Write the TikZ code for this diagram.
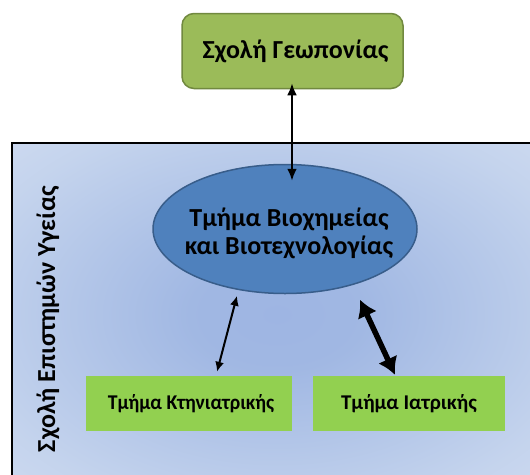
\documentclass[tikz,border=0pt]{standalone}
\usepackage{fontspec}
\setmainfont{Carlito}
\usetikzlibrary{arrows.meta,shapes.geometric}
\definecolor{olivefill}{HTML}{9BBB59}
\definecolor{olivedraw}{HTML}{71893F}
\definecolor{limefill}{HTML}{92D050}
\definecolor{bluefill}{HTML}{4F81BD}
\definecolor{bluedraw}{HTML}{385D8A}
\pgfdeclareradialshading{healthbg}{\pgfpoint{0bp}{0bp}}{%
  rgb(0bp)=(0.62,0.71,0.89);
  rgb(8bp)=(0.63,0.72,0.89);
  rgb(30bp)=(0.77,0.83,0.93);
  rgb(50bp)=(0.87,0.90,0.96)}
\tikzset{
  schoolbox/.style={draw=olivedraw, line width=1.5pt, fill=olivefill, rounded corners=12pt,
    minimum width=221pt, minimum height=75pt, inner sep=0pt, font=\bfseries\fontsize{26}{30}\selectfont},
  deptbox/.style={fill=limefill, minimum height=55pt, inner sep=0pt, font=\bfseries\fontsize{21}{24}\selectfont},
  bioell/.style={ellipse, draw=bluedraw, line width=1.5pt, fill=bluefill, minimum width=264pt, minimum height=129pt,
    inner sep=0pt},
  biolabel/.style={inner sep=0pt, text=black, align=center, font=\bfseries\fontsize{26}{28}\selectfont},
  thinarr/.style={line width=2pt, {Latex[length=10pt,width=9pt]}-{Latex[length=10pt,width=9pt]}},
  midarr/.style={line width=2.6pt, {Latex[length=12pt,width=10pt]}-{Latex[length=12pt,width=10pt]}},
  thickarr/.style={line width=5.5pt, {Latex[length=17pt,width=21pt]}-{Latex[length=17pt,width=21pt]}},
}
\begin{document}
\begin{tikzpicture}[x=1pt,y=-1pt]
\clip (0,0) rectangle (530,474);
\fill[white] (0,0) rectangle (530,474);
% outer school frame
\node[minimum width=528pt, minimum height=342pt, inner sep=0pt, anchor=north west] (health) at (12,143) {};
\shade[shading=healthbg] (13,144) rectangle (541,485);
\draw[line width=2pt] (health.south west) |- (health.north east);
\node[rotate=90, font=\bfseries\fontsize{26}{28}\selectfont] (healthlabel) at (48,319) {Σχολή Επιστημών Υγείας};
% nodes
\node[schoolbox] (agri) at (292.5,51) {\hspace*{6pt}Σχολή Γεωπονίας};
\node[bioell] (bio) at (285,229) {};
\node[biolabel] (biotext) at (289,233) {Τμήμα Βιοχημείας\\και Βιοτεχνολογίας};
\node[deptbox, minimum width=206pt] (vet) at (189,403.5) {\hspace*{4pt}\addfontfeature{FakeStretch=0.94}Τμήμα Κτηνιατρικής};
\node[deptbox, minimum width=192pt] (med) at (409,403.5) {Τμήμα Ιατρικής};
% connectors
\coordinate (biotop) at ([xshift=7pt,yshift=-17pt]bio.north);
\coordinate (agribot) at ([xshift=-0.5pt,yshift=6pt]agri.south);
\draw[midarr] (agribot) -- (biotop);
\coordinate (vettop) at ([xshift=28pt,yshift=4pt]vet.north);
\coordinate (biovet) at ([xshift=-48pt,yshift=-1.5pt]bio.south);
\draw[thinarr] (biovet) -- (vettop);
\coordinate (medtop) at ([xshift=-14pt,yshift=1pt]med.north);
\coordinate (biomed) at ([xshift=75pt,yshift=-5.5pt]bio.south);
\draw[thickarr] (biomed) -- (medtop);
\end{tikzpicture}
\end{document}
